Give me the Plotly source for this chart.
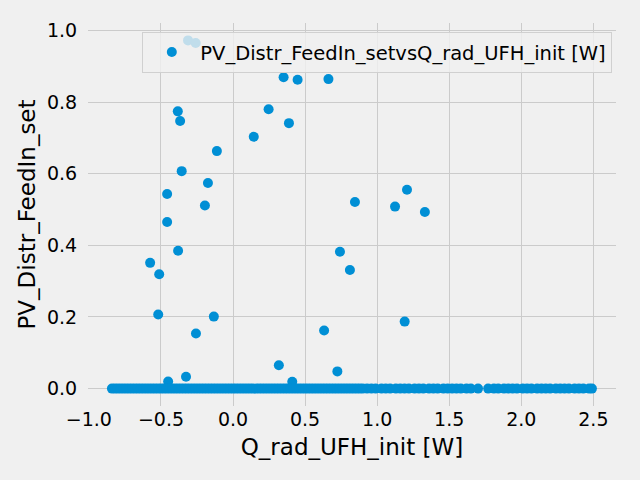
import plotly.graph_objects as go

# scattered non-zero points
q_rad = [-0.312, -0.259, -0.383, -0.367, -0.112, 0.144, 0.247, 0.388, 0.351, 0.448,
         0.662, 0.846, 1.207, 1.124, 1.331, 0.742, 0.811, 0.632, 1.191, 0.724,
         0.318, 0.411, -0.356, -0.174, -0.457, -0.195, -0.457, -0.381, -0.575, -0.512,
         -0.519, -0.133, -0.257, -0.326, -0.450]
feed_in = [0.972, 0.965, 0.774, 0.747, 0.663, 0.703, 0.780, 0.741, 0.869, 0.862,
           0.864, 0.521, 0.555, 0.508, 0.493, 0.382, 0.331, 0.162, 0.187, 0.048,
           0.065, 0.019, 0.607, 0.574, 0.543, 0.511, 0.465, 0.385, 0.351, 0.319,
           0.207, 0.201, 0.154, 0.033, 0.020]

# the long row of zero values along the bottom
q_rad_zero = [-0.84, -0.82, -0.80, -0.78, -0.76, -0.74, -0.72, -0.70, -0.68, -0.66,
              -0.64, -0.62, -0.60, -0.58, -0.56, -0.54, -0.52, -0.50, -0.48, -0.46,
              -0.44, -0.42, -0.40, -0.38, -0.36, -0.34, -0.32, -0.30, -0.28, -0.26,
              -0.24, -0.22, -0.20, -0.18, -0.16, -0.14, -0.12, -0.10, -0.08, -0.06,
              -0.04, -0.02, 0.00, 0.02, 0.04, 0.06, 0.08, 0.10, 0.12, 0.14,
              0.16, 0.18, 0.20, 0.22, 0.24, 0.26, 0.28, 0.30, 0.32, 0.34,
              0.36, 0.38, 0.40, 0.42, 0.44, 0.46, 0.48, 0.50, 0.52, 0.54,
              0.56, 0.58, 0.60, 0.62, 0.64, 0.66, 0.68, 0.70, 0.72, 0.74,
              0.76, 0.78, 0.80, 0.82, 0.84, 0.86, 0.88, 0.90, 0.93, 0.96,
              0.99, 1.03, 1.06, 1.09, 1.13, 1.16, 1.19, 1.22, 1.26, 1.29,
              1.32, 1.36, 1.39, 1.42, 1.46, 1.49, 1.52, 1.55, 1.58, 1.62,
              1.65, 1.70, 1.77, 1.81, 1.84, 1.88, 1.91, 1.94, 1.97, 2.01,
              2.04, 2.07, 2.11, 2.14, 2.17, 2.20, 2.24, 2.27, 2.30, 2.33,
              2.37, 2.40, 2.43, 2.47, 2.49]
feed_in_zero = [0.0] * len(q_rad_zero)

x_ticks = [-1.0, -0.5, 0.0, 0.5, 1.0, 1.5, 2.0, 2.5]
y_ticks = [0.0, 0.2, 0.4, 0.6, 0.8, 1.0]

bg = "#f0f0f0"
grid = "#cbcbcb"

fig = go.Figure()
fig.add_trace(go.Scatter(
    x=q_rad + q_rad_zero,
    y=feed_in + feed_in_zero,
    mode="markers",
    name="PV_Distr_FeedIn_setvsQ_rad_UFH_init [W]",
    marker=dict(color="#008fd5", size=10, line=dict(width=0)),
    showlegend=True,
))

fig.update_layout(
    width=640, height=480,
    margin=dict(l=88, r=24, t=23, b=74),
    paper_bgcolor=bg, plot_bgcolor=bg,
    font=dict(family="DejaVu Sans", size=19, color="black"),
    legend=dict(x=0.993, y=0.977, xanchor="right", yanchor="top",
                bgcolor="rgba(240,240,240,0.8)", bordercolor="#d0d0d0", borderwidth=1,
                font=dict(size=19.5), itemwidth=47),
)
fig.update_xaxes(
    range=[-1.006, 2.657], tickvals=x_ticks, tickformat=".1f", automargin=False,
    showgrid=True, gridcolor=grid, gridwidth=1.3, zeroline=False, showline=False,
    ticks="",
    title=dict(text="Q_rad_UFH_init [W]", font=dict(size=23), standoff=9),
)
fig.update_yaxes(
    range=[-0.0486, 1.0206], tickvals=y_ticks, tickformat=".1f", automargin=False,
    showgrid=True, gridcolor=grid, gridwidth=1.3, zeroline=False, showline=False,
    ticks="outside", ticklen=6, tickcolor=bg,
    title=dict(text="PV_Distr_FeedIn_set", font=dict(size=23), standoff=4),
)

# page has a default 8px body margin; drop it so the figure sits at 0,0
fig.write_html("out.html", config={"displayModeBar": False},
               post_script="document.body.style.margin='0';document.body.style.background='#f0f0f0';")
